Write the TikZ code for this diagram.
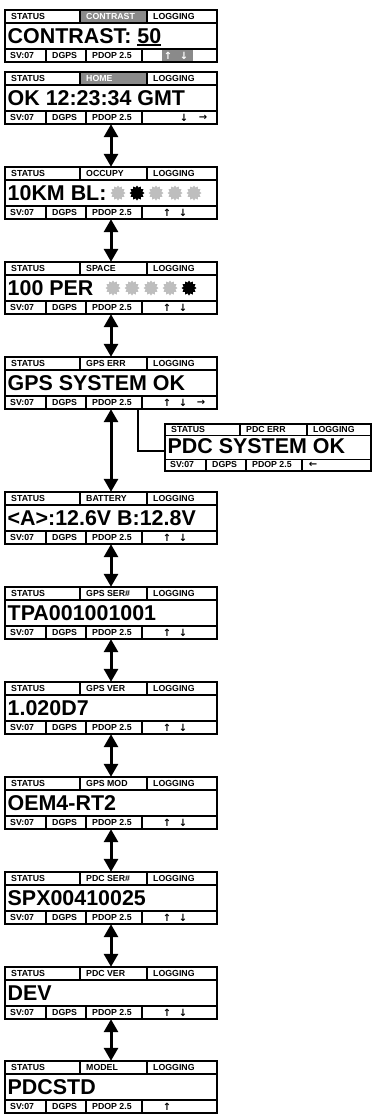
\documentclass[tikz,border=0pt]{standalone}
\usepackage{fontspec}
\setmainfont{Liberation Sans}[BoldFont=Liberation Sans Bold]
\newfontfamily\arrowfont{DejaVu Sans}[BoldFont=DejaVu Sans Bold]
\usetikzlibrary{arrows.meta,shapes.geometric,fit}

\definecolor{lcdgray}{HTML}{8A8A8A}
\definecolor{dotgray}{HTML}{BEBEBE}
\tikzset{panel width/.store in=\panelw, panel width=212}

\newcommand\ulbar[1]{\setbox0\hbox{#1}\rlap{\rule[-2.6bp]{\wd0}{1.8bp}}\box0}

\newcommand\panel[7][]{%
	\begin{scope}[shift={(#3)},#1]
		#7
		\draw[panelframe] (0,0) rectangle (\panelw,52);
		\draw[panelrule] (0,13) -- (\panelw,13) (0,39) -- (\panelw,39);
		\draw[panelrule] (75,0) -- (75,13) (142,0) -- (142,13);
		\draw[panelrule] (41,39) -- (41,52) (81,39) -- (81,52) (137,39) -- (137,52);
		\path (0,0) coordinate (#2-nw) (\panelw,52) coordinate (#2-se) (137,52) coordinate (#2-pdop);
		\node[lbl] (#2-st) at (6,9.8) {STATUS};
		\node[lbl] (#2-mode) at (81,9.8) {#4};
		\node[lbl] (#2-log) at (148,9.8) {LOGGING};
		\node[readout] (#2-val) at (2.5,33) {#5};
		\node[lbl] (#2-sv) at (5,48.8) {SV:07};
		\node[lbl] (#2-dg) at (47,48.8) {DGPS};
		\node[lbl] (#2-pd) at (87,48.8) {PDOP 2.5};
		\foreach \ax/\ag [count=\k] in {#6} \node[navkey] (#2-key\k) at (\ax,45.5) {\ag};
	\end{scope}
	\node[fit=(#2-nw)(#2-se), inner sep=0] (#2) {};
}

\begin{document}
\begin{tikzpicture}[x=1bp, y=-1bp,
	panelframe/.style={line width=1.8bp},
	panelrule/.style={line width=1.1bp},
	lbl/.style={font=\fontsize{8.8}{9}\selectfont\bfseries, inner sep=0, anchor=base west},
	readout/.style={font=\fontsize{21.5}{22}\selectfont\bfseries, inner sep=0, anchor=base west},
	navkey/.style={font=\arrowfont\bfseries\fontsize{10}{10}\selectfont, inner sep=0},
	burst/.style={star, star points=12, star point ratio=1.35, minimum size=15bp, inner sep=0},
	dbl/.style={{Triangle[width=14bp,length=13bp]}-{Triangle[width=14bp,length=13bp]}, line width=3bp},
	link/.style={line width=2bp}]
	\useasboundingbox (0,0) rectangle (372,1114);

	\panel{b1}{5,10}{\textcolor{white}{CONTRAST}}{CONTRAST: \ulbar{50}}{163/\textcolor{white}{↑},179/\textcolor{white}{↓}}{%
		\fill[lcdgray] (75,0) rectangle (142,13); \fill[lcdgray] (157,39) rectangle (188,52);}
	\panel{b2}{5,72}{\textcolor{white}{HOME}}{OK 12:23:34 GMT}{179/↓,198/→}{%
		\fill[lcdgray] (75,0) rectangle (142,13);}
	\panel{b3}{5,167}{OCCUPY}{10KM BL:}{162/↑,178/↓}{%
		\foreach \sx/\sc [count=\i] in {113/dotgray,132/black,151/dotgray,170/dotgray,189/dotgray}
			\node[burst, fill=\sc] (occ\i) at (\sx,26) {};}
	\panel{b4}{5,262}{SPACE}{100 PER}{162/↑,178/↓}{%
		\foreach \sx/\sc [count=\i] in {108/dotgray,127/dotgray,146/dotgray,165/dotgray,184/black}
			\node[burst, fill=\sc] (spc\i) at (\sx,26) {};}
	\panel{b5}{5,357}{GPS ERR}{GPS SYSTEM OK}{162/↑,178/↓,196/\raisebox{-3bp}{→}}{}
	\panel[panel width=206, yscale=0.9]{pdc}{165,424}{PDC ERR}{PDC SYSTEM OK}{148/←}{}
	\panel{b6}{5,492}{BATTERY}{<A>:12.6V B:12.8V}{162/↑,178/↓}{}
	\panel{b7}{5,587}{GPS SER\#}{TPA001001001}{162/↑,178/↓}{}
	\panel{b8}{5,682}{GPS VER}{1.020D7}{162/↑,178/↓}{}
	\panel{b9}{5,777}{GPS MOD}{OEM4-RT2}{162/↑,178/↓}{}
	\panel{b10}{5,872}{PDC SER\#}{SPX00410025}{162/↑,178/↓}{}
	\panel{b11}{5,967}{PDC VER}{DEV}{162/↑,178/↓}{}
	\panel{b12}{5,1061}{MODEL}{PDCSTD}{162/↑}{}

	\foreach \u/\v in {b2/b3,b3/b4,b4/b5,b5/b6,b6/b7,b7/b8,b8/b9,b9/b10,b10/b11,b11/b12}
		\draw[dbl] (\u.south) -- (\v.north);
	\draw[link] ([xshift=-4bp]b5-pdop) |- ([yshift=-4bp]pdc.west);
\end{tikzpicture}
\end{document}
